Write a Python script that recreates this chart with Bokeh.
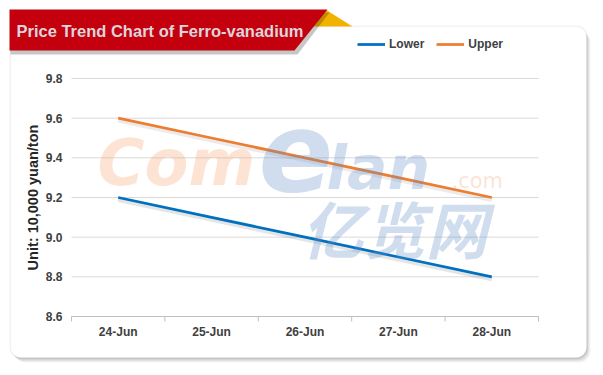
import math
from bokeh.plotting import figure
from bokeh.models import Range1d, BoxAnnotation, Legend, LegendItem
from bokeh.core.properties import value
from bokeh.embed import file_html
from bokeh.resources import INLINE

# ---------------- data ----------------
dates = ["24-Jun", "25-Jun", "26-Jun", "27-Jun", "28-Jun"]
lower = [9.2, 9.1, 9.0, 8.9, 8.8]
upper = [9.6, 9.5, 9.4, 9.3, 9.2]
y_ticks = [8.6, 8.8, 9.0, 9.2, 9.4, 9.6, 9.8]
series_names = ["Lower", "Upper"]
title_text = "Price Trend Chart of Ferro-vanadium"
y_title = "Unit: 10,000 yuan/ton"

# ---------------- layout (pixels) ----------------
W, H = 595, 367
PL, PR, PT, PB = 71, 538, 78, 316          # plot area
n = len(dates)
xs = list(range(n))
kx = (PR - PL) / n                          # px per category
ky = (PB - PT) / (y_ticks[-1] - y_ticks[0]) # px per unit

FONT = value("Liberation Sans")
TXT = "#404040"

p = figure(width=W, height=H, output_backend="svg", toolbar_location=None,
           x_axis_type=None, y_axis_type=None,
           x_range=Range1d(-0.5 - PL / kx, n - 0.5 + (W - PR) / kx),
           y_range=Range1d(y_ticks[0] - (H - PB) / ky, y_ticks[-1] + PT / ky),
           min_border=0)
p.extra_x_ranges = {"px": Range1d(0, W)}
p.extra_y_ranges = {"px": Range1d(H, 0)}
PX = dict(x_range_name="px", y_range_name="px")
p.title.visible = False
p.outline_line_color = None
p.border_fill_color = "white"
p.background_fill_color = "white"
p.xgrid.visible = False
p.ygrid.visible = False

# ---------------- card with soft shadow ----------------
CL, CR, CT, CB = 10, 586, 26, 357
for dx, dy, grow, a in [(0, 0, 1, 0.05), (1, 2, 0, 0.06), (2, 3, 0, 0.06), (3, 4, 0, 0.05), (4, 5, 0, 0.04)]:
    p.add_layout(BoxAnnotation(left=CL + dx - grow, right=CR + dx + grow, top=CT + dy - grow, bottom=CB + dy + grow,
                               fill_color="black", fill_alpha=a, line_color=None, border_radius=11,
                               level="underlay", **PX))
p.add_layout(BoxAnnotation(left=CL, right=CR, top=CT, bottom=CB, fill_color="white", fill_alpha=1,
                           line_color="#E4E4E4", line_width=1, border_radius=10, level="underlay", **PX))

# ---------------- grid & axes ----------------
p.segment(x0=[-0.5] * (len(y_ticks) - 1), x1=[n - 0.5] * (len(y_ticks) - 1),
          y0=y_ticks[1:], y1=y_ticks[1:], line_color="#D9D9D9", line_width=1)
p.segment(x0=[-0.5], x1=[n - 0.5], y0=[y_ticks[0]], y1=[y_ticks[0]], line_color="#BFBFBF", line_width=1)
bounds = [i - 0.5 for i in range(n + 1)]
p.segment(x0=bounds, x1=bounds, y0=[PB] * len(bounds), y1=[PB + 5] * len(bounds),
          y_range_name="px", line_color="#BFBFBF", line_width=1)

p.text(x=xs, y=[y_ticks[0]] * n, text=dates, y_offset=15, text_align="center", text_baseline="middle",
       text_font=FONT, text_font_style="bold", text_font_size=value("12px"), text_color=TXT)
p.text(x=[-0.5] * len(y_ticks), y=y_ticks, text=[f"{v:.1f}" for v in y_ticks], x_offset=-9,
       text_align="right", text_baseline="middle",
       text_font=FONT, text_font_style="bold", text_font_size=value("12px"), text_color=TXT)
p.text(x=[32], y=[(PT + PB) / 2], text=[y_title], angle=math.pi / 2, text_align="center",
       text_baseline="middle", text_font=FONT, text_font_style="bold", text_font_size=value("14.5px"),
       text_color="#262626", **PX)

# ---------------- series ----------------
sh = 2.5 / ky
p.line(xs, [v - sh for v in lower], line_color="black", line_alpha=0.10, line_width=4)
p.line(xs, [v - sh for v in upper], line_color="black", line_alpha=0.08, line_width=4)
r_low = p.line(xs, lower, line_color="#0070C0", line_width=2.75)
r_up = p.line(xs, upper, line_color="#ED7D31", line_width=2.75)

# ---------------- watermark ----------------
WM_O, WM_B = "#F4A170", "#628DC6"
def wm(text, x, y, size, color, style="bold italic", font="DejaVu Sans", alpha=0.30):
    p.text(x=[x], y=[y], text=[text], text_font=value(font), text_font_style=style,
           text_font_size=value(f"{size}px"), text_color=color, text_alpha=alpha,
           text_baseline="middle", text_align="left", **PX)

wm("Com", 97, 162, 64, WM_O)
wm("e", 258, 150, 110, WM_B)
wm("lan", 326, 167, 60, WM_B)
wm(".com", 451, 180, 21, WM_O, style="normal")
wm("亿览网", 301, 226, 62, WM_B, style="bold italic", font="Noto Sans CJK SC")

# ---------------- title banner ----------------
p.patch(x=[325, 352, 310], y=[9, 26, 26], fill_color="#F2B200", line_color=None, **PX)
p.patch(x=[10, 329, 297, 10], y=[12, 12, 54, 54], fill_color="black", fill_alpha=0.22, line_color=None, **PX)
p.patch(x=[9, 327, 294, 9], y=[9, 9, 50, 50], fill_color="#C4000E", line_color=None, **PX)
p.text(x=[16], y=[30], text=[title_text], text_font=FONT, text_font_style="bold",
       text_font_size=value("16.5px"), text_color="#DCD5DB", text_baseline="middle", **PX)

# ---------------- legend ----------------
legend = Legend(items=[LegendItem(label=series_names[0], renderers=[r_low]),
                       LegendItem(label=series_names[1], renderers=[r_up])],
                orientation="horizontal", location=(357, H - 37 - 14),
                glyph_width=28, glyph_height=14, label_height=14, label_standoff=4, spacing=12,
                padding=0, margin=0, border_line_color=None, background_fill_alpha=0,
                label_text_font="Liberation Sans", label_text_font_style="bold",
                label_text_font_size="12px", label_text_color=TXT)
p.add_layout(legend, "center")

open("out.html", "w").write(file_html(p, INLINE))
